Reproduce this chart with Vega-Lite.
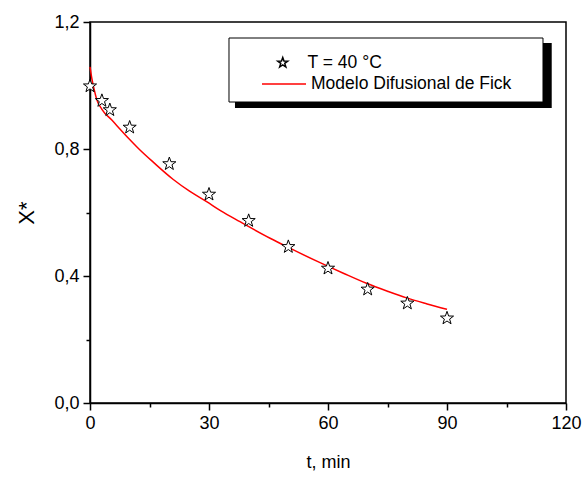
{
  "$schema": "https://vega.github.io/schema/vega-lite/v6.json",
  "width": 476,
  "height": 381,
  "autosize": "none",
  "padding": {"left": 90, "top": 22, "right": 19, "bottom": 76},
  "background": "white",
  "config": {
    "view": {"stroke": "black", "strokeWidth": 1.5},
    "font": "Liberation Sans",
    "axis": {"grid": false, "domainColor": "black", "domainWidth": 1.5, "tickColor": "black", "tickWidth": 1.5, "labelColor": "black", "titleColor": "black", "labelFont": "Liberation Sans", "titleFont": "Liberation Sans", "labelFontSize": 18, "titleFontWeight": "normal", "labelOverlap": false, "labelFlush": false}
  },
  "layer": [
    {
      "data": {"values": [{}]},
      "mark": {"type": "rect", "fill": "black"},
      "encoding": {
        "x": {"datum": 36.55, "type": "quantitative", "scale": {"domain": [0, 120], "nice": false}},
        "x2": {"datum": 116.4},
        "y": {"datum": 1.134, "type": "quantitative", "scale": {"domain": [0, 1.2], "nice": false}},
        "y2": {"datum": 0.929}
      }
    },
    {
      "data": {"values": [{}]},
      "mark": {"type": "rect", "fill": "white", "stroke": "black", "strokeWidth": 1},
      "encoding": {
        "x": {"datum": 35.04, "type": "quantitative"},
        "x2": {"datum": 114.2},
        "y": {"datum": 1.1496, "type": "quantitative"},
        "y2": {"datum": 0.948}
      }
    },
    {
      "data": {"values": [
        {"t": 0, "x": 1.059, "s": "Modelo Difusional de Fick"},
        {"t": 0.5, "x": 1.02, "s": "Modelo Difusional de Fick"},
        {"t": 1, "x": 0.99, "s": "Modelo Difusional de Fick"},
        {"t": 1.7, "x": 0.956, "s": "Modelo Difusional de Fick"},
        {"t": 3, "x": 0.925, "s": "Modelo Difusional de Fick"},
        {"t": 5.5, "x": 0.891, "s": "Modelo Difusional de Fick"},
        {"t": 9.7, "x": 0.834, "s": "Modelo Difusional de Fick"},
        {"t": 12.6, "x": 0.797, "s": "Modelo Difusional de Fick"},
        {"t": 16, "x": 0.758, "s": "Modelo Difusional de Fick"},
        {"t": 21, "x": 0.704, "s": "Modelo Difusional de Fick"},
        {"t": 25, "x": 0.668, "s": "Modelo Difusional de Fick"},
        {"t": 29.4, "x": 0.634, "s": "Modelo Difusional de Fick"},
        {"t": 33, "x": 0.605, "s": "Modelo Difusional de Fick"},
        {"t": 37.8, "x": 0.571, "s": "Modelo Difusional de Fick"},
        {"t": 45.4, "x": 0.519, "s": "Modelo Difusional de Fick"},
        {"t": 50, "x": 0.49, "s": "Modelo Difusional de Fick"},
        {"t": 58, "x": 0.442, "s": "Modelo Difusional de Fick"},
        {"t": 64, "x": 0.408, "s": "Modelo Difusional de Fick"},
        {"t": 69.7, "x": 0.377, "s": "Modelo Difusional de Fick"},
        {"t": 75, "x": 0.352, "s": "Modelo Difusional de Fick"},
        {"t": 79.8, "x": 0.331, "s": "Modelo Difusional de Fick"},
        {"t": 85, "x": 0.312, "s": "Modelo Difusional de Fick"},
        {"t": 90, "x": 0.295, "s": "Modelo Difusional de Fick"}
      ]},
      "mark": {"type": "line", "interpolate": "monotone", "strokeWidth": 1.5},
      "encoding": {
        "x": {"field": "t", "type": "quantitative",
          "axis": {"values": [0, 15, 30, 45, 60, 75, 90, 105, 120], "labelExpr": "datum.value % 30 === 0 ? datum.label : ''",
            "tickSize": {"condition": {"test": "datum.value % 30 === 0", "value": 7}, "value": 4},
            "labelPadding": 4, "title": "t, min", "titleFontSize": 18, "titlePadding": 21}},
        "y": {"field": "x", "type": "quantitative",
          "axis": {"values": [0, 0.2, 0.4, 0.6, 0.8, 1.0, 1.2], "labelExpr": "round(datum.value*10) % 4 === 0 ? replace(format(datum.value, '.1f'), '.', ',') : ''",
            "tickSize": {"condition": {"test": "round(datum.value*10) % 4 === 0", "value": 7}, "value": 4},
            "labelPadding": 4, "title": "X*", "titleFontSize": 22, "titlePadding": 15}},
        "color": {"field": "s", "type": "nominal", "scale": {"range": ["#ff0000"]},
          "legend": {"title": null, "orient": "none", "legendX": 171, "legendY": 39, "padding": 0, "symbolSize": 1936, "symbolStrokeWidth": 1.5, "labelOffset": 4, "labelFontSize": 17.5, "labelFont": "Liberation Sans", "labelColor": "black", "labelLimit": 400}}
      }
    },
    {
      "data": {"values": [
        {"t": 0, "x": 0.998, "s": "T = 40 °C"},
        {"t": 3, "x": 0.952, "s": "T = 40 °C"},
        {"t": 5, "x": 0.923, "s": "T = 40 °C"},
        {"t": 10, "x": 0.868, "s": "T = 40 °C"},
        {"t": 20, "x": 0.753, "s": "T = 40 °C"},
        {"t": 30, "x": 0.657, "s": "T = 40 °C"},
        {"t": 40, "x": 0.574, "s": "T = 40 °C"},
        {"t": 50, "x": 0.492, "s": "T = 40 °C"},
        {"t": 60, "x": 0.424, "s": "T = 40 °C"},
        {"t": 70, "x": 0.358, "s": "T = 40 °C"},
        {"t": 80, "x": 0.314, "s": "T = 40 °C"},
        {"t": 90, "x": 0.267, "s": "T = 40 °C"}
      ]},
      "mark": {"type": "point", "filled": false, "color": "black", "fill": "white", "strokeWidth": 1, "size": 190, "opacity": 1},
      "encoding": {
        "x": {"field": "t", "type": "quantitative"},
        "y": {"field": "x", "type": "quantitative"},
        "shape": {"field": "s", "type": "nominal",
          "scale": {"range": ["M0,-1L0.235,-0.324L0.951,-0.309L0.38,0.124L0.588,0.809L0,0.4L-0.588,0.809L-0.38,0.124L-0.951,-0.309L-0.235,-0.324Z"]},
          "legend": {"title": null, "orient": "none", "legendX": 184, "legendY": 32, "padding": 0, "symbolSize": 110, "labelOffset": 16, "labelFontSize": 17.5, "labelFont": "Liberation Sans", "labelColor": "black",
            "encode": {"symbols": {"update": {
              "shape": {"value": "M0,-1L0.235,-0.324L0.951,-0.309L0.38,0.124L0.588,0.809L0,0.4L-0.588,0.809L-0.38,0.124L-0.951,-0.309L-0.235,-0.324Z"},
              "stroke": {"value": "black"}, "fill": {"value": "white"}, "strokeWidth": {"value": 0.8}, "opacity": {"value": 1}, "fillOpacity": {"value": 1}, "strokeOpacity": {"value": 1}, "size": {"value": 110}}}}}}
      }
    }
  ]
}
